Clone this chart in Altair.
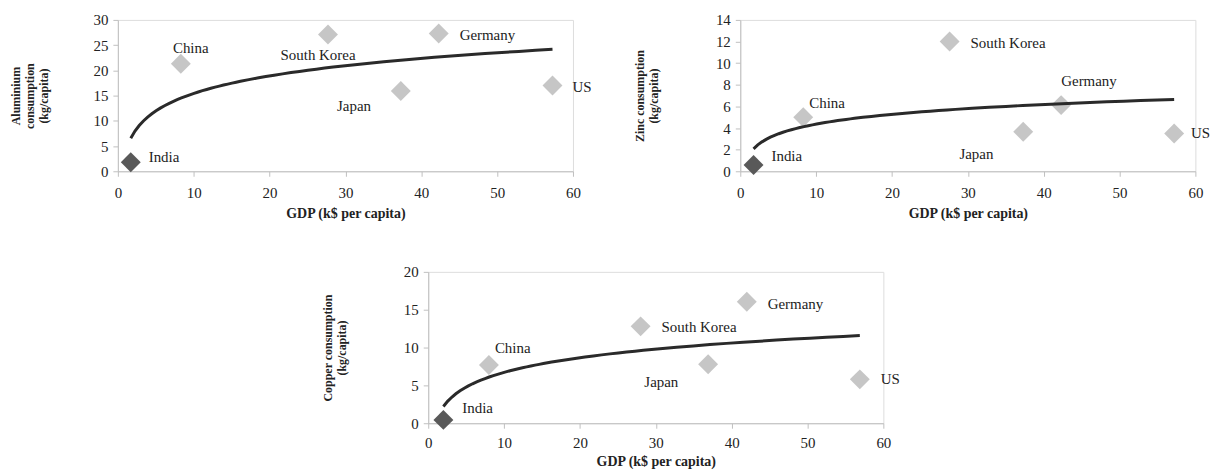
import altair as alt
import pandas as pd

# ---------------- data ----------------
countries = ["India", "China", "South Korea", "Japan", "Germany", "US"]

gdp_al = [1.7, 8.3, 27.7, 37.3, 42.3, 57.3]
aluminium = [1.8, 21.3, 27.1, 15.9, 27.3, 17.0]

gdp_zn = [1.75, 8.3, 27.6, 37.3, 42.3, 57.2]
zinc = [0.58, 5.0, 12.0, 3.66, 6.12, 3.5]

gdp_cu = [2.0, 8.0, 28.0, 36.9, 42.0, 56.9]
copper = [0.44, 7.7, 12.8, 7.8, 16.05, 5.8]

x_ticks = [0, 10, 20, 30, 40, 50, 60]
al_ticks = [0, 5, 10, 15, 20, 25, 30]
zn_ticks = [0, 2, 4, 6, 8, 10, 12, 14]
cu_ticks = [0, 5, 10, 15, 20]

# ---------------- style ----------------
FONT = "Liberation Serif"
LIGHT = "#c6c6c6"
DARK = "#595959"
LINE = "#2a2a2a"
AXIS = "#bfbfbf"
W, H = 457, 152

# label placement: (align, dx, dy)
label_pos = {
    "al": {"India": ("left", 18, -5), "China": ("center", 10, -16),
           "South Korea": ("center", -10, 21), "Japan": ("center", -47, 15),
           "Germany": ("left", 21, 1), "US": ("left", 20, 2)},
    "zn": {"India": ("left", 18, -9), "China": ("left", 6, -14),
           "South Korea": ("left", 21, 1), "Japan": ("center", -47, 22),
           "Germany": ("center", 28, -24), "US": ("left", 17, 0)},
    "cu": {"India": ("left", 19, -12), "China": ("left", 6, -17),
           "South Korea": ("left", 21, 1), "Japan": ("center", -47, 18),
           "Germany": ("left", 21, 2), "US": ("left", 21, 0)},
}


def panel(key, gdp, vals, ymax, yticks, ytitle, title_pad, xlab_pad=9, xtitle_pad=6):
    df = pd.DataFrame({"country": countries, "gdp": gdp, "val": vals})
    df["kind"] = ["India" if c == "India" else "Other" for c in countries]
    base = alt.Chart(df)
    xaxis = alt.Axis(values=x_ticks, title="GDP (k$ per capita)", grid=False,
                     domainColor=AXIS, tickColor=AXIS, tickSize=5,
                     labelFont=FONT, labelFontSize=15, labelColor="#222",
                     labelOverlap=False, labelFlush=False, labelPadding=xlab_pad,
                     titleFont=FONT, titleFontSize=14, titleFontWeight="bold",
                     titleColor="#222", titlePadding=xtitle_pad)
    yaxis = alt.Axis(values=yticks, title=ytitle, grid=False,
                     domainColor=AXIS, tickColor=AXIS, tickSize=5,
                     labelFont=FONT, labelFontSize=15, labelColor="#222",
                     labelOverlap=False, labelFlush=False, labelPadding=5,
                     titleFont=FONT, titleFontSize=12, titleFontWeight="bold",
                     titleColor="#222", titleLineHeight=14, titlePadding=title_pad)

    def xenc():
        return alt.X("gdp:Q", scale=alt.Scale(domain=[0, 60], nice=False), axis=xaxis)

    def yenc():
        return alt.Y("val:Q", scale=alt.Scale(domain=[0, ymax], nice=False), axis=yaxis)

    pts = base.mark_point(shape="diamond", filled=True, size=400, opacity=1).encode(
        x=xenc(), y=yenc(),
        color=alt.Color("kind:N", scale=alt.Scale(domain=["India", "Other"],
                                                  range=[DARK, LIGHT]), legend=None),
    )
    fit = base.transform_regression("gdp", "val", method="log").mark_line(
        color=LINE, strokeWidth=3).encode(x=xenc(), y=yenc())
    texts = []
    for c in countries:
        align, dx, dy = label_pos[key][c]
        texts.append(
            base.transform_filter(alt.datum.country == c).mark_text(
                align=align, baseline="middle", dx=dx, dy=dy, font=FONT,
                fontSize=15, color="#222").encode(x=xenc(), y=yenc(), text="country:N")
        )
    return alt.layer(pts, fit, *texts).properties(width=W, height=H)


p_al = panel("al", gdp_al, aluminium, 30, al_ticks,
             ["Aluminium", "consumption", "(kg/capita)"], 43)
p_zn = panel("zn", gdp_zn, zinc, 14, zn_ticks,
             ["Zinc consumption", "(kg/capita)"], 55)
p_cu = panel("cu", gdp_cu, copper, 20, cu_ticks,
             ["Copper consumption", "(kg/capita)"], 55, xlab_pad=7, xtitle_pad=4)

top = alt.hconcat(p_al, p_zn, spacing=40)
chart = alt.vconcat(top, p_cu, spacing=43, center=True).properties(
    padding={"left": 0, "top": 3, "right": 0, "bottom": 0}
).configure_view(stroke=None).configure(background="white").configure_axis(
    labelOverlap=False
)

chart.save("out.html", embed_options={"renderer": "svg", "actions": False})
